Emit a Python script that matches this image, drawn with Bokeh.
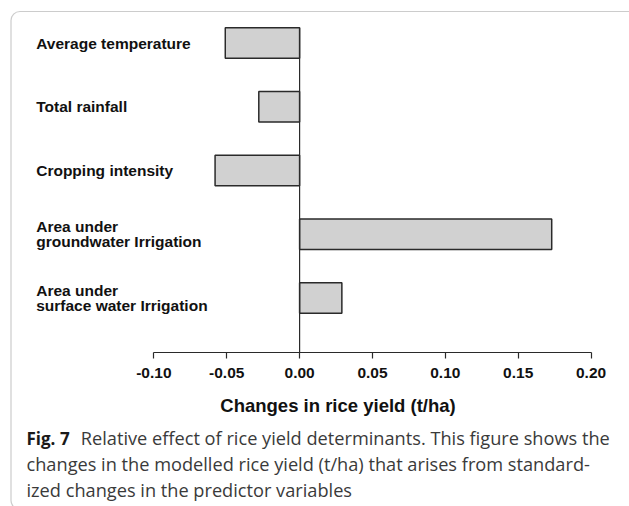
from bokeh.plotting import figure
from bokeh.models import (LinearAxis, FixedTicker, NumeralTickFormatter, Range1d,
                          Label, BoxAnnotation, ColumnDataSource)
from bokeh.core.properties import value
from bokeh.embed import file_html
from bokeh.resources import INLINE

# ---- data ----
categories = [
    "Average temperature",
    "Total rainfall",
    "Cropping intensity",
    "Area under\ngroundwater Irrigation",
    "Area under\nsurface water Irrigation",
]
effects = [-0.051, -0.028, -0.058, 0.173, 0.029]
tick_values = [-0.10, -0.05, 0.00, 0.05, 0.10, 0.15, 0.20]
axis_title = "Changes in rice yield (t/ha)"
caption_bold = "Fig. 7"
caption_lines = [
    "Relative effect of rice yield determinants. This figure shows the",
    "changes in the modelled rice yield (t/ha) that arises from standard-",
    "ized changes in the predictor variables",
]

# ---- layout helpers (page pixel -> data) ----
W, H = 629, 506
ZERO_PX, X_SCALE = 299.1, 1457.3
ROW0_PX, ROW_STEP = 42.5, 63.75


def X(px):
    return (px - ZERO_PX) / X_SCALE


def Y(py):
    return (py - ROW0_PX) / ROW_STEP


p = figure(width=W, height=H, output_backend="svg", toolbar_location=None,
           x_range=Range1d(X(0), X(W)), y_range=Range1d(Y(H), Y(0)),
           x_axis_type=None, y_axis_type=None, min_border=0,
           outline_line_color=None, background_fill_color="white",
           border_fill_color="white")

rows = list(range(len(categories)))
src = ColumnDataSource(dict(y=rows, right=effects, label=categories))

axis_y = Y(352.3)

# bars
p.hbar(y="y", left=0, right="right", height=0.478, source=src,
       fill_color="#d1d1d1", line_color="#2a2a2a", line_width=1.5)

# zero line
p.segment(x0=[0], y0=[-0.239], x1=[0], y1=[axis_y], line_color="#2a2a2a", line_width=1.2)

# category labels
p.text(x=X(35.7), y="y", text="label", source=src,
       text_font=value("Liberation Sans"), text_font_style="bold",
       text_font_size="15.5px", text_baseline="middle", text_align="left",
       text_line_height=0.9, text_color="#111111")

# x axis
ax = LinearAxis(fixed_location=axis_y, ticker=FixedTicker(ticks=tick_values),
                formatter=NumeralTickFormatter(format="0.00"))
ax.bounds = (tick_values[0], tick_values[-1])
ax.axis_line_color = "#2a2a2a"
ax.axis_line_width = 1.2
ax.major_tick_line_color = "#2a2a2a"
ax.major_tick_line_width = 1.2
ax.major_tick_in = 0
ax.major_tick_out = 6
ax.minor_tick_line_color = None
ax.major_label_standoff = 9
ax.major_label_text_font = "Liberation Sans"
ax.major_label_text_font_style = "bold"
ax.major_label_text_font_size = "15.5px"
ax.major_label_text_color = "#111111"
p.add_layout(ax, "below")

p.add_layout(Label(x=X(337.5), y=Y(405), text=axis_title, text_align="center",
                   text_baseline="alphabetic", text_font="Liberation Sans",
                   text_font_style="bold", text_font_size="18.5px", text_color="#111111"))

# caption
p.add_layout(Label(x=X(26), y=Y(437.7), text=caption_bold, text_align="left",
                   text_baseline="alphabetic", text_font="Open Sans",
                   text_font_style="bold", text_font_size="17px", text_color="#1a1a1a"))
cap_x = [80.3, 26, 26]
cap_y = [437.7, 463.5, 489.0]
for line, cx, cy in zip(caption_lines, cap_x, cap_y):
    p.add_layout(Label(x=X(cx), y=Y(cy), text=line, text_align="left",
                       text_baseline="alphabetic", text_font="Open Sans",
                       text_font_size="18.2px", text_color="#3a3a3a"))

# rounded border (cut by the page edges on the right and bottom)
p.add_layout(BoxAnnotation(left=X(10.5), right=X(637), top=Y(11), bottom=Y(509),
                           fill_alpha=0, line_color="#555555", line_width=1.2,
                           border_radius=9, level="overlay"))

open("out.html", "w").write(file_html(p, INLINE))
